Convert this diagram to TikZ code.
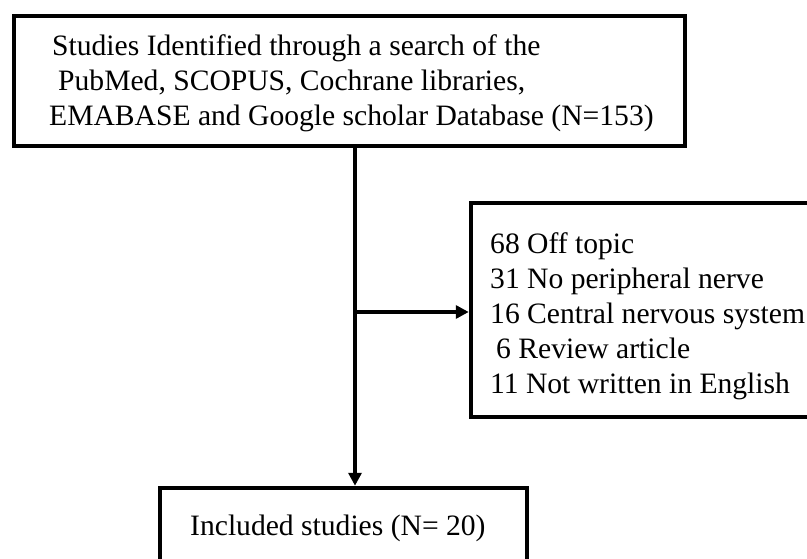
\documentclass[tikz,border=0pt]{standalone}
\usepackage{fontspec}
\setmainfont{Liberation Serif}
\usetikzlibrary{arrows.meta}
\begin{document}
\begin{tikzpicture}[x=1pt,y=1pt,
  box/.style={draw=black,line width=4.5pt,fill=white,inner sep=0pt},
  txt/.style={anchor=base west,inner sep=0pt,font=\fontsize{29.6}{35}\selectfont},
  conn/.style={line width=4pt,-{Triangle[length=13pt,width=13pt]}}]
\useasboundingbox (0,0) rectangle (807,-559);
\fill[white] (0,0) rectangle (807,-559);
\clip (0,0) rectangle (807,-559);
% boxes
\node[box,minimum width=671pt,minimum height=130pt] (top) at (349.5,-81) {};
\node[box,minimum width=359pt,minimum height=214pt] (excl) at (650.5,-310) {};
\node[box,minimum width=367pt,minimum height=112pt] (incl) at (343.5,-544) {};
% texts
\node[txt] (t1) at (52,-55.5) {Studies Identified through a search of the};
\node[txt] (t2) at (58,-90.5) {PubMed, SCOPUS, Cochrane libraries,};
\node[txt] (t3) at (49,-125.5) {EMABASE and Google scholar Database (N=153)};
\node[txt] (e1) at (490,-254) {68 Off topic};
\node[txt] (e2) at (490,-289) {31 No peripheral nerve};
\node[txt] (e3) at (490,-323.5) {16 Central nervous system};
\node[txt] (e4) at (496,-358) {6 Review article};
\node[txt] (e5) at (490,-393) {11 Not written in English};
\node[txt] (i1) at (190,-535) {Included studies (N= 20)};
% connectors
\coordinate (vx) at (355,0);
\coordinate (jn) at (355,-312);
\draw[conn] (top.south -| vx) -- (incl.north -| vx);
\draw[conn] (jn) -- (jn -| excl.west);
\end{tikzpicture}
\end{document}
